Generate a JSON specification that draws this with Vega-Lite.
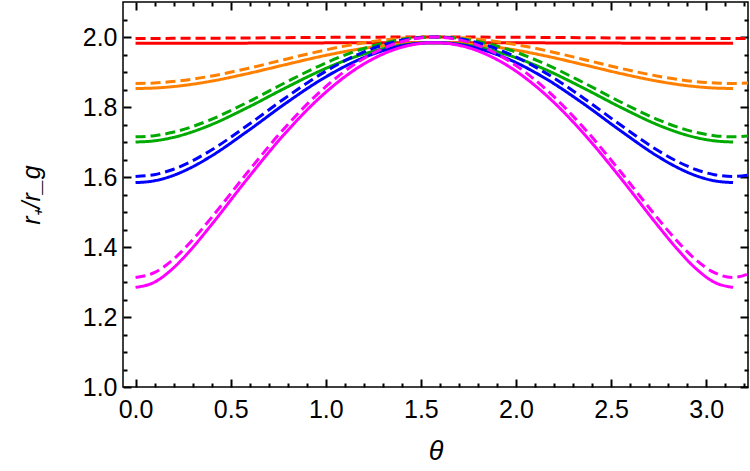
{
  "$schema": "https://vega.github.io/schema/vega-lite/v6.json",
  "width": 625,
  "height": 385,
  "autosize": {"type": "none"},
  "padding": {"left": 123, "top": 2, "right": 2, "bottom": 84},
  "config": {
    "view": {"stroke": "black", "strokeWidth": 1.5},
    "axis": {
      "grid": false,
      "labelFont": "Liberation Sans",
      "labelFontSize": 25,
      "labelColor": "black",
      "titleColor": "black",
      "titleFont": "Liberation Sans",
      "titleFontWeight": "normal",
      "labelFlush": false,
      "labelOverlap": false,
      "minExtent": 0
    }
  },
  "data": {
    "values": [
      {"t": 0, "r": 1.9818, "c": "s1", "d": "solid"},
      {"t": 0.19635, "r": 1.9819, "c": "s1", "d": "solid"},
      {"t": 0.3927, "r": 1.9821, "c": "s1", "d": "solid"},
      {"t": 0.58905, "r": 1.9825, "c": "s1", "d": "solid"},
      {"t": 0.7854, "r": 1.9829, "c": "s1", "d": "solid"},
      {"t": 0.98175, "r": 1.9832, "c": "s1", "d": "solid"},
      {"t": 1.1781, "r": 1.9836, "c": "s1", "d": "solid"},
      {"t": 1.37445, "r": 1.9838, "c": "s1", "d": "solid"},
      {"t": 1.5708, "r": 1.9839, "c": "s1", "d": "solid"},
      {"t": 1.76715, "r": 1.9838, "c": "s1", "d": "solid"},
      {"t": 1.9635, "r": 1.9836, "c": "s1", "d": "solid"},
      {"t": 2.15984, "r": 1.9832, "c": "s1", "d": "solid"},
      {"t": 2.35619, "r": 1.9829, "c": "s1", "d": "solid"},
      {"t": 2.55254, "r": 1.9825, "c": "s1", "d": "solid"},
      {"t": 2.74889, "r": 1.9821, "c": "s1", "d": "solid"},
      {"t": 2.94524, "r": 1.9819, "c": "s1", "d": "solid"},
      {"t": 3.14159, "r": 1.9818, "c": "s1", "d": "solid"},

      {"t": 0, "r": 1.8529, "c": "s2", "d": "solid"},
      {"t": 0.09817, "r": 1.8542, "c": "s2", "d": "solid"},
      {"t": 0.19635, "r": 1.8582, "c": "s2", "d": "solid"},
      {"t": 0.29452, "r": 1.8647, "c": "s2", "d": "solid"},
      {"t": 0.3927, "r": 1.8733, "c": "s2", "d": "solid"},
      {"t": 0.58905, "r": 1.8954, "c": "s2", "d": "solid"},
      {"t": 0.7854, "r": 1.9207, "c": "s2", "d": "solid"},
      {"t": 0.98175, "r": 1.9454, "c": "s2", "d": "solid"},
      {"t": 1.1781, "r": 1.9658, "c": "s2", "d": "solid"},
      {"t": 1.37445, "r": 1.9792, "c": "s2", "d": "solid"},
      {"t": 1.5708, "r": 1.9839, "c": "s2", "d": "solid"},
      {"t": 1.76715, "r": 1.9792, "c": "s2", "d": "solid"},
      {"t": 1.9635, "r": 1.9658, "c": "s2", "d": "solid"},
      {"t": 2.15984, "r": 1.9454, "c": "s2", "d": "solid"},
      {"t": 2.35619, "r": 1.9207, "c": "s2", "d": "solid"},
      {"t": 2.55254, "r": 1.8954, "c": "s2", "d": "solid"},
      {"t": 2.74889, "r": 1.8733, "c": "s2", "d": "solid"},
      {"t": 2.84707, "r": 1.8647, "c": "s2", "d": "solid"},
      {"t": 2.94524, "r": 1.8582, "c": "s2", "d": "solid"},
      {"t": 3.04342, "r": 1.8542, "c": "s2", "d": "solid"},
      {"t": 3.14159, "r": 1.8529, "c": "s2", "d": "solid"},

      {"t": 0, "r": 1.7000, "c": "s3", "d": "solid"},
      {"t": 0.09817, "r": 1.7033, "c": "s3", "d": "solid"},
      {"t": 0.19635, "r": 1.7129, "c": "s3", "d": "solid"},
      {"t": 0.29452, "r": 1.7282, "c": "s3", "d": "solid"},
      {"t": 0.3927, "r": 1.7483, "c": "s3", "d": "solid"},
      {"t": 0.58905, "r": 1.7985, "c": "s3", "d": "solid"},
      {"t": 0.7854, "r": 1.8538, "c": "s3", "d": "solid"},
      {"t": 0.98175, "r": 1.9058, "c": "s3", "d": "solid"},
      {"t": 1.1781, "r": 1.9476, "c": "s3", "d": "solid"},
      {"t": 1.37445, "r": 1.9746, "c": "s3", "d": "solid"},
      {"t": 1.5708, "r": 1.9839, "c": "s3", "d": "solid"},
      {"t": 1.76715, "r": 1.9746, "c": "s3", "d": "solid"},
      {"t": 1.9635, "r": 1.9476, "c": "s3", "d": "solid"},
      {"t": 2.15984, "r": 1.9058, "c": "s3", "d": "solid"},
      {"t": 2.35619, "r": 1.8538, "c": "s3", "d": "solid"},
      {"t": 2.55254, "r": 1.7985, "c": "s3", "d": "solid"},
      {"t": 2.74889, "r": 1.7483, "c": "s3", "d": "solid"},
      {"t": 2.84707, "r": 1.7282, "c": "s3", "d": "solid"},
      {"t": 2.94524, "r": 1.7129, "c": "s3", "d": "solid"},
      {"t": 3.04342, "r": 1.7033, "c": "s3", "d": "solid"},
      {"t": 3.14159, "r": 1.7000, "c": "s3", "d": "solid"},

      {"t": 0, "r": 1.5840, "c": "s4", "d": "solid"},
      {"t": 0.09817, "r": 1.5891, "c": "s4", "d": "solid"},
      {"t": 0.19635, "r": 1.6040, "c": "s4", "d": "solid"},
      {"t": 0.29452, "r": 1.6276, "c": "s4", "d": "solid"},
      {"t": 0.3927, "r": 1.6579, "c": "s4", "d": "solid"},
      {"t": 0.58905, "r": 1.7311, "c": "s4", "d": "solid"},
      {"t": 0.7854, "r": 1.8090, "c": "s4", "d": "solid"},
      {"t": 0.98175, "r": 1.8800, "c": "s4", "d": "solid"},
      {"t": 1.1781, "r": 1.9360, "c": "s4", "d": "solid"},
      {"t": 1.37445, "r": 1.9717, "c": "s4", "d": "solid"},
      {"t": 1.5708, "r": 1.9839, "c": "s4", "d": "solid"},
      {"t": 1.76715, "r": 1.9717, "c": "s4", "d": "solid"},
      {"t": 1.9635, "r": 1.9360, "c": "s4", "d": "solid"},
      {"t": 2.15984, "r": 1.8800, "c": "s4", "d": "solid"},
      {"t": 2.35619, "r": 1.8090, "c": "s4", "d": "solid"},
      {"t": 2.55254, "r": 1.7311, "c": "s4", "d": "solid"},
      {"t": 2.74889, "r": 1.6579, "c": "s4", "d": "solid"},
      {"t": 2.84707, "r": 1.6276, "c": "s4", "d": "solid"},
      {"t": 2.94524, "r": 1.6040, "c": "s4", "d": "solid"},
      {"t": 3.04342, "r": 1.5891, "c": "s4", "d": "solid"},
      {"t": 3.14159, "r": 1.5840, "c": "s4", "d": "solid"},

      {"t": 0, "r": 1.2846, "c": "s5", "d": "solid"},
      {"t": 0.09817, "r": 1.2992, "c": "s5", "d": "solid"},
      {"t": 0.19635, "r": 1.3388, "c": "s5", "d": "solid"},
      {"t": 0.29452, "r": 1.3946, "c": "s5", "d": "solid"},
      {"t": 0.3927, "r": 1.4592, "c": "s5", "d": "solid"},
      {"t": 0.58905, "r": 1.5956, "c": "s5", "d": "solid"},
      {"t": 0.7854, "r": 1.7242, "c": "s5", "d": "solid"},
      {"t": 0.98175, "r": 1.8332, "c": "s5", "d": "solid"},
      {"t": 1.1781, "r": 1.9155, "c": "s5", "d": "solid"},
      {"t": 1.37445, "r": 1.9666, "c": "s5", "d": "solid"},
      {"t": 1.5708, "r": 1.9839, "c": "s5", "d": "solid"},
      {"t": 1.76715, "r": 1.9666, "c": "s5", "d": "solid"},
      {"t": 1.9635, "r": 1.9155, "c": "s5", "d": "solid"},
      {"t": 2.15984, "r": 1.8332, "c": "s5", "d": "solid"},
      {"t": 2.35619, "r": 1.7242, "c": "s5", "d": "solid"},
      {"t": 2.55254, "r": 1.5956, "c": "s5", "d": "solid"},
      {"t": 2.74889, "r": 1.4592, "c": "s5", "d": "solid"},
      {"t": 2.84707, "r": 1.3946, "c": "s5", "d": "solid"},
      {"t": 2.94524, "r": 1.3388, "c": "s5", "d": "solid"},
      {"t": 3.04342, "r": 1.2992, "c": "s5", "d": "solid"},
      {"t": 3.14159, "r": 1.2846, "c": "s5", "d": "solid"},

      {"t": 0, "r": 1.9960, "c": "s1", "d": "dashed"},
      {"t": 0.19635, "r": 1.9961, "c": "s1", "d": "dashed"},
      {"t": 0.3927, "r": 1.9966, "c": "s1", "d": "dashed"},
      {"t": 0.58905, "r": 1.9972, "c": "s1", "d": "dashed"},
      {"t": 0.7854, "r": 1.9980, "c": "s1", "d": "dashed"},
      {"t": 0.98175, "r": 1.9988, "c": "s1", "d": "dashed"},
      {"t": 1.1781, "r": 1.9994, "c": "s1", "d": "dashed"},
      {"t": 1.37445, "r": 1.9998, "c": "s1", "d": "dashed"},
      {"t": 1.5708, "r": 2.0000, "c": "s1", "d": "dashed"},
      {"t": 1.76715, "r": 1.9998, "c": "s1", "d": "dashed"},
      {"t": 1.9635, "r": 1.9994, "c": "s1", "d": "dashed"},
      {"t": 2.15984, "r": 1.9988, "c": "s1", "d": "dashed"},
      {"t": 2.35619, "r": 1.9980, "c": "s1", "d": "dashed"},
      {"t": 2.55254, "r": 1.9972, "c": "s1", "d": "dashed"},
      {"t": 2.74889, "r": 1.9966, "c": "s1", "d": "dashed"},
      {"t": 2.94524, "r": 1.9961, "c": "s1", "d": "dashed"},
      {"t": 3.14159, "r": 1.9960, "c": "s1", "d": "dashed"},
      {"t": 3.25, "r": 1.9960, "c": "s1", "d": "dashed"},

      {"t": 0, "r": 1.8672, "c": "s2", "d": "dashed"},
      {"t": 0.09817, "r": 1.8686, "c": "s2", "d": "dashed"},
      {"t": 0.19635, "r": 1.8726, "c": "s2", "d": "dashed"},
      {"t": 0.29452, "r": 1.8792, "c": "s2", "d": "dashed"},
      {"t": 0.3927, "r": 1.8879, "c": "s2", "d": "dashed"},
      {"t": 0.58905, "r": 1.9102, "c": "s2", "d": "dashed"},
      {"t": 0.7854, "r": 1.9359, "c": "s2", "d": "dashed"},
      {"t": 0.98175, "r": 1.9610, "c": "s2", "d": "dashed"},
      {"t": 1.1781, "r": 1.9817, "c": "s2", "d": "dashed"},
      {"t": 1.37445, "r": 1.9953, "c": "s2", "d": "dashed"},
      {"t": 1.5708, "r": 2.0000, "c": "s2", "d": "dashed"},
      {"t": 1.76715, "r": 1.9953, "c": "s2", "d": "dashed"},
      {"t": 1.9635, "r": 1.9817, "c": "s2", "d": "dashed"},
      {"t": 2.15984, "r": 1.9610, "c": "s2", "d": "dashed"},
      {"t": 2.35619, "r": 1.9359, "c": "s2", "d": "dashed"},
      {"t": 2.55254, "r": 1.9102, "c": "s2", "d": "dashed"},
      {"t": 2.74889, "r": 1.8879, "c": "s2", "d": "dashed"},
      {"t": 2.84707, "r": 1.8792, "c": "s2", "d": "dashed"},
      {"t": 2.94524, "r": 1.8726, "c": "s2", "d": "dashed"},
      {"t": 3.04342, "r": 1.8686, "c": "s2", "d": "dashed"},
      {"t": 3.14159, "r": 1.8672, "c": "s2", "d": "dashed"},
      {"t": 3.25, "r": 1.8689, "c": "s2", "d": "dashed"},

      {"t": 0, "r": 1.7148, "c": "s3", "d": "dashed"},
      {"t": 0.09817, "r": 1.7181, "c": "s3", "d": "dashed"},
      {"t": 0.19635, "r": 1.7277, "c": "s3", "d": "dashed"},
      {"t": 0.29452, "r": 1.7431, "c": "s3", "d": "dashed"},
      {"t": 0.3927, "r": 1.7633, "c": "s3", "d": "dashed"},
      {"t": 0.58905, "r": 1.8136, "c": "s3", "d": "dashed"},
      {"t": 0.7854, "r": 1.8692, "c": "s3", "d": "dashed"},
      {"t": 0.98175, "r": 1.9214, "c": "s3", "d": "dashed"},
      {"t": 1.1781, "r": 1.9635, "c": "s3", "d": "dashed"},
      {"t": 1.37445, "r": 1.9907, "c": "s3", "d": "dashed"},
      {"t": 1.5708, "r": 2.0000, "c": "s3", "d": "dashed"},
      {"t": 1.76715, "r": 1.9907, "c": "s3", "d": "dashed"},
      {"t": 1.9635, "r": 1.9635, "c": "s3", "d": "dashed"},
      {"t": 2.15984, "r": 1.9214, "c": "s3", "d": "dashed"},
      {"t": 2.35619, "r": 1.8692, "c": "s3", "d": "dashed"},
      {"t": 2.55254, "r": 1.8136, "c": "s3", "d": "dashed"},
      {"t": 2.74889, "r": 1.7633, "c": "s3", "d": "dashed"},
      {"t": 2.84707, "r": 1.7431, "c": "s3", "d": "dashed"},
      {"t": 2.94524, "r": 1.7277, "c": "s3", "d": "dashed"},
      {"t": 3.04342, "r": 1.7181, "c": "s3", "d": "dashed"},
      {"t": 3.14159, "r": 1.7148, "c": "s3", "d": "dashed"},
      {"t": 3.25, "r": 1.7188, "c": "s3", "d": "dashed"},

      {"t": 0, "r": 1.6017, "c": "s4", "d": "dashed"},
      {"t": 0.09817, "r": 1.6067, "c": "s4", "d": "dashed"},
      {"t": 0.19635, "r": 1.6215, "c": "s4", "d": "dashed"},
      {"t": 0.29452, "r": 1.6448, "c": "s4", "d": "dashed"},
      {"t": 0.3927, "r": 1.6749, "c": "s4", "d": "dashed"},
      {"t": 0.58905, "r": 1.7476, "c": "s4", "d": "dashed"},
      {"t": 0.7854, "r": 1.8252, "c": "s4", "d": "dashed"},
      {"t": 0.98175, "r": 1.8961, "c": "s4", "d": "dashed"},
      {"t": 1.1781, "r": 1.9521, "c": "s4", "d": "dashed"},
      {"t": 1.37445, "r": 1.9878, "c": "s4", "d": "dashed"},
      {"t": 1.5708, "r": 2.0000, "c": "s4", "d": "dashed"},
      {"t": 1.76715, "r": 1.9878, "c": "s4", "d": "dashed"},
      {"t": 1.9635, "r": 1.9521, "c": "s4", "d": "dashed"},
      {"t": 2.15984, "r": 1.8961, "c": "s4", "d": "dashed"},
      {"t": 2.35619, "r": 1.8252, "c": "s4", "d": "dashed"},
      {"t": 2.55254, "r": 1.7476, "c": "s4", "d": "dashed"},
      {"t": 2.74889, "r": 1.6749, "c": "s4", "d": "dashed"},
      {"t": 2.84707, "r": 1.6448, "c": "s4", "d": "dashed"},
      {"t": 2.94524, "r": 1.6215, "c": "s4", "d": "dashed"},
      {"t": 3.04342, "r": 1.6067, "c": "s4", "d": "dashed"},
      {"t": 3.14159, "r": 1.6017, "c": "s4", "d": "dashed"},
      {"t": 3.25, "r": 1.6078, "c": "s4", "d": "dashed"},

      {"t": 0, "r": 1.3130, "c": "s5", "d": "dashed"},
      {"t": 0.09817, "r": 1.3266, "c": "s5", "d": "dashed"},
      {"t": 0.19635, "r": 1.3638, "c": "s5", "d": "dashed"},
      {"t": 0.29452, "r": 1.4171, "c": "s5", "d": "dashed"},
      {"t": 0.3927, "r": 1.4797, "c": "s5", "d": "dashed"},
      {"t": 0.58905, "r": 1.6135, "c": "s5", "d": "dashed"},
      {"t": 0.7854, "r": 1.7409, "c": "s5", "d": "dashed"},
      {"t": 0.98175, "r": 1.8495, "c": "s5", "d": "dashed"},
      {"t": 1.1781, "r": 1.9316, "c": "s5", "d": "dashed"},
      {"t": 1.37445, "r": 1.9827, "c": "s5", "d": "dashed"},
      {"t": 1.5708, "r": 2.0000, "c": "s5", "d": "dashed"},
      {"t": 1.76715, "r": 1.9827, "c": "s5", "d": "dashed"},
      {"t": 1.9635, "r": 1.9316, "c": "s5", "d": "dashed"},
      {"t": 2.15984, "r": 1.8495, "c": "s5", "d": "dashed"},
      {"t": 2.35619, "r": 1.7409, "c": "s5", "d": "dashed"},
      {"t": 2.55254, "r": 1.6135, "c": "s5", "d": "dashed"},
      {"t": 2.74889, "r": 1.4797, "c": "s5", "d": "dashed"},
      {"t": 2.84707, "r": 1.4171, "c": "s5", "d": "dashed"},
      {"t": 2.94524, "r": 1.3638, "c": "s5", "d": "dashed"},
      {"t": 3.04342, "r": 1.3266, "c": "s5", "d": "dashed"},
      {"t": 3.14159, "r": 1.3130, "c": "s5", "d": "dashed"},
      {"t": 3.25, "r": 1.3295, "c": "s5", "d": "dashed"}
    ]
  },
  "layer": [
    {
      "mark": {"type": "line", "opacity": 0},
      "encoding": {
        "x": {"field": "t", "type": "quantitative", "scale": {"domain": [-0.066, 3.22], "nice": false, "zero": false},
              "axis": {"orient": "top", "offset": -8, "values": [0,0.1,0.2,0.3,0.4,0.5,0.6,0.7,0.8,0.9,1,1.1,1.2,1.3,1.4,1.5,1.6,1.7,1.8,1.9,2,2.1,2.2,2.3,2.4,2.5,2.6,2.7,2.8,2.9,3,3.1,3.2],
                       "labels": false, "title": null, "ticks": true, "tickSize": 8, "tickWidth": 2, "tickColor": "#000000",
                       "tickDash": {"condition": {"test": "abs(datum.value*2-round(datum.value*2))<0.001", "value": [8, 0]}, "value": [0, 4, 4, 0]},
                       "domain": true, "domainOpacity": 0}},
        "y": {"field": "r", "type": "quantitative", "scale": {"domain": [1.0, 2.1], "nice": false, "zero": false},
              "axis": {"orient": "right", "offset": -8, "values": [1,1.05,1.1,1.15,1.2,1.25,1.3,1.35,1.4,1.45,1.5,1.55,1.6,1.65,1.7,1.75,1.8,1.85,1.9,1.95,2,2.05],
                       "labels": false, "title": null, "ticks": true, "tickSize": 8, "tickWidth": 2, "tickColor": "#000000",
                       "tickDash": {"condition": {"test": "abs(datum.value*5-round(datum.value*5))<0.001", "value": [8, 0]}, "value": [0, 4, 4, 0]},
                       "domain": true, "domainOpacity": 0}},
        "detail": {"field": "c"}
      }
    },
    {
      "mark": {"type": "line", "strokeWidth": 3, "interpolate": "monotone", "clip": true},
      "encoding": {
        "x": {"field": "t", "type": "quantitative",
              "axis": {"orient": "bottom", "offset": -8, "values": [0,0.1,0.2,0.3,0.4,0.5,0.6,0.7,0.8,0.9,1,1.1,1.2,1.3,1.4,1.5,1.6,1.7,1.8,1.9,2,2.1,2.2,2.3,2.4,2.5,2.6,2.7,2.8,2.9,3,3.1,3.2],
                       "labelExpr": "abs(datum.value*2-round(datum.value*2))<0.001 ? format(datum.value,'.1f') : ''",
                       "ticks": true, "tickSize": 8, "tickWidth": 2, "tickColor": "#000000",
                       "tickDash": {"condition": {"test": "abs(datum.value*2-round(datum.value*2))<0.001", "value": [8, 0]}, "value": [0, 4, 4, 0]},
                       "labelPadding": 10,
                       "domain": true, "domainOpacity": 0,
                       "title": "θ", "titleFontSize": 27, "titleFontStyle": "italic", "titlePadding": 16}},
        "y": {"field": "r", "type": "quantitative",
              "axis": {"orient": "left", "offset": -8, "values": [1,1.05,1.1,1.15,1.2,1.25,1.3,1.35,1.4,1.45,1.5,1.55,1.6,1.65,1.7,1.75,1.8,1.85,1.9,1.95,2,2.05],
                       "labelExpr": "abs(datum.value*5-round(datum.value*5))<0.001 ? format(datum.value,'.1f') : ''",
                       "ticks": true, "tickSize": 8, "tickWidth": 2, "tickColor": "#000000",
                       "tickDash": {"condition": {"test": "abs(datum.value*5-round(datum.value*5))<0.001", "value": [8, 0]}, "value": [0, 4, 4, 0]},
                       "labelPadding": 6,
                       "domain": true, "domainOpacity": 0,
                       "title": "r₊/r_g", "titleFontSize": 25, "titleFontStyle": "italic", "titlePadding": 38}},
        "color": {"field": "c", "type": "nominal", "legend": null,
                  "scale": {"domain": ["s1", "s2", "s3", "s4", "s5"], "range": ["#ff0000", "#ff8000", "#00aa00", "#0000ff", "#ff00ff"]}},
        "strokeDash": {"field": "d", "type": "nominal", "legend": null,
                       "scale": {"domain": ["solid", "dashed"], "range": [[1, 0], [10, 5]]}}
      }
    }
  ],
  "resolve": {"axis": {"x": "independent", "y": "independent"}}
}
